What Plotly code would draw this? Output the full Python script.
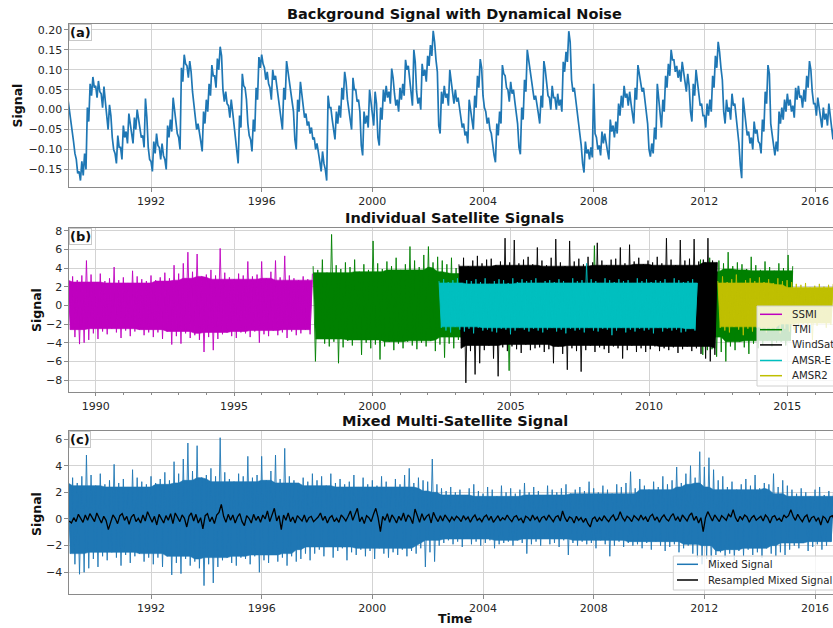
import plotly.graph_objects as go

# ---------------- data ----------------
# (a) background signal: high/low extremes, 20 samples per year from 1989.0
BG_START, BG_STEP = 1989.0, 0.05
bg_signal = [
    0.025, 0.0, -0.02, -0.05, -0.08, -0.11, -0.125, -0.16, -0.155, -0.178, -0.13, -0.165, -0.11, -0.15, 0.005, -0.03, 0.065, 0.035, 0.082, 0.055,
    0.06, 0.03, 0.072, 0.045, 0.04, 0.005, 0.058, 0.02, -0.02, -0.05, 0.012, -0.015, -0.07, -0.1, -0.11, -0.135, -0.065, -0.095, -0.095, -0.125,
    -0.04, -0.07, -0.055, -0.085, -0.01, -0.04, -0.055, -0.085, -0.02, -0.05, 0.0, -0.025, -0.04, -0.07, -0.065, -0.095, 0.028, -0.02, -0.095, -0.125,
    -0.13, -0.155, -0.08, -0.11, -0.06, -0.09, -0.095, -0.125, -0.085, -0.115, -0.125, -0.15, -0.04, -0.07, -0.025, -0.055, 0.03, 0.0, -0.025, -0.06,
    -0.07, -0.1, 0.105, 0.07, 0.138, 0.115, 0.11, 0.08, 0.122, 0.095, 0.045, 0.015, -0.02, -0.05, -0.035, -0.065, -0.08, -0.105, -0.005, -0.035,
    0.025, -0.005, 0.065, 0.035, 0.112, 0.085, 0.085, 0.055, 0.128, 0.1, 0.158, 0.135, 0.05, 0.02, 0.045, 0.015, 0.01, -0.02, 0.025, -0.005,
    -0.035, -0.065, -0.11, -0.135, -0.015, -0.045, 0.09, 0.06, 0.055, 0.025, -0.035, -0.065, -0.075, -0.105, -0.025, -0.055, 0.055, 0.025, 0.132, 0.105,
    0.138, 0.115, 0.105, 0.075, 0.095, 0.065, 0.055, 0.025, 0.1, 0.075, 0.085, 0.055, 0.025, -0.005, -0.02, -0.05, 0.055, 0.025, 0.122, 0.095,
    0.075, 0.045, 0.025, -0.005, -0.075, -0.1, 0.025, -0.005, 0.07, 0.04, 0.01, -0.02, -0.01, -0.04, -0.03, -0.06, -0.045, -0.075, -0.07, -0.1,
    -0.085, -0.115, -0.13, -0.155, -0.105, -0.135, -0.15, -0.178, 0.035, 0.005, 0.005, -0.025, -0.045, -0.075, -0.005, -0.035, 0.01, -0.02, 0.055, 0.025,
    0.095, 0.07, 0.025, -0.005, -0.02, -0.05, 0.08, 0.05, 0.05, 0.02, 0.025, -0.005, -0.09, -0.115, -0.005, -0.035, -0.015, -0.045, 0.05, 0.02,
    -0.01, -0.04, 0.045, 0.015, -0.07, -0.09, 0.005, -0.025, 0.05, 0.02, 0.06, 0.03, 0.045, 0.015, 0.103, 0.08, 0.04, 0.01, 0.025, -0.005,
    0.055, 0.025, 0.065, 0.035, 0.125, 0.1, 0.11, 0.08, 0.04, 0.01, 0.15, 0.12, 0.045, 0.015, 0.03, 0.0, 0.115, 0.085, 0.1, 0.07,
    0.135, 0.11, 0.162, 0.135, 0.198, 0.17, 0.125, 0.095, -0.04, -0.06, 0.045, 0.015, 0.06, 0.03, 0.04, 0.01, 0.1, 0.07, 0.045, 0.015,
    0.05, 0.02, 0.03, 0.0, -0.015, -0.045, -0.035, -0.065, -0.055, -0.085, 0.025, -0.005, -0.02, -0.05, 0.035, 0.005, 0.085, 0.055, 0.127, 0.105,
    0.035, 0.005, -0.005, -0.035, -0.02, -0.05, -0.06, -0.09, -0.115, -0.132, -0.035, -0.065, -0.005, -0.035, 0.112, 0.09, 0.085, 0.055, 0.05, 0.02,
    0.07, 0.04, 0.05, 0.02, -0.005, -0.035, -0.095, -0.112, 0.005, -0.025, 0.075, 0.045, 0.15, 0.125, 0.105, 0.075, 0.055, 0.025, 0.035, 0.005,
    -0.01, -0.035, 0.035, 0.005, 0.122, 0.1, 0.065, 0.035, 0.03, 0.0, 0.06, 0.03, 0.03, 0.0, 0.04, 0.01, 0.025, -0.005, 0.12, 0.095,
    0.145, 0.12, 0.197, 0.17, 0.075, 0.045, 0.055, 0.025, 0.005, -0.025, -0.06, -0.09, -0.135, -0.158, -0.08, -0.11, -0.1, -0.125, -0.095, -0.12,
    0.065, -0.06, -0.07, -0.1, -0.09, -0.115, -0.055, -0.085, -0.06, -0.09, -0.105, -0.125, -0.025, -0.055, -0.04, -0.07, -0.03, -0.06, 0.015, -0.015,
    0.035, 0.005, 0.06, 0.03, 0.04, 0.01, 0.045, 0.015, -0.005, -0.035, 0.055, 0.025, 0.112, 0.09, 0.075, 0.045, 0.055, 0.025, -0.005, -0.035,
    -0.1, -0.118, -0.085, -0.11, -0.045, -0.075, 0.065, 0.03, -0.015, -0.045, 0.025, -0.005, 0.085, 0.055, 0.115, 0.085, 0.15, 0.125, 0.125, 0.095,
    0.11, 0.08, 0.1, 0.07, 0.12, 0.09, 0.075, 0.045, 0.09, 0.06, -0.005, -0.03, 0.065, 0.035, 0.1, 0.07, 0.04, 0.01, 0.015, -0.015,
    -0.015, -0.045, 0.015, -0.015, 0.025, -0.005, 0.085, 0.055, 0.135, 0.105, 0.17, 0.145, 0.105, 0.075, -0.005, -0.035, 0.025, -0.005, 0.005, -0.025,
    0.04, 0.01, 0.015, -0.015, -0.055, -0.085, -0.14, -0.172, 0.03, 0.0, -0.035, -0.065, -0.055, -0.085, -0.07, -0.1, -0.03, -0.06, -0.05, -0.08,
    -0.085, -0.11, -0.025, -0.055, 0.045, 0.015, 0.112, 0.09, -0.035, -0.065, -0.09, -0.115, -0.08, -0.105, -0.005, -0.035, 0.005, -0.025, 0.025, -0.005,
    0.04, 0.01, 0.025, -0.005, 0.01, -0.02, 0.055, 0.025, 0.06, 0.03, 0.035, 0.005, 0.05, 0.02, 0.085, 0.055, 0.122, 0.1, 0.045, 0.015,
    0.015, -0.015, 0.03, 0.0, -0.015, -0.045, 0.005, -0.025, -0.01, -0.04, 0.015, -0.015, -0.045, -0.075, -0.025, -0.055,
]

# (b) individual satellites: alternating upper/lower extremes, 12 samples per year
SAT_STEP = 1.0 / 12
sat_names = ["SSMI", "TMI", "WindSat", "AMSR-E", "AMSR2"]
sat_colors = ["#bf00bf", "#008000", "#000000", "#00bfbf", "#bfbf00"]
sat_starts = [1989.0, 1997.86, 2003.13, 2002.41, 2012.49]

ssmi = [
    2.9, -2.6, 3.1, -3.4, 2.7, -4.15, 3.2, -4.0, 4.8, -3.7, 3.3, -3.0,
    2.5, -3.6, 3.4, -2.8, 2.6, -3.1, 2.9, -2.5, 4.1, -2.9, 2.7, -3.5,
    3.0, -2.7, 2.4, -3.3, 3.7, -2.8, 3.1, -2.6, 2.8, -3.2, 2.6, -2.9,
    3.2, -3.4, 2.7, -2.9, 3.0, -3.6, 3.5, -2.8, 2.9, -4.2, 4.3, -3.3,
    3.4, -4.1, 4.5, -3.0, 5.7, -3.5, 3.6, -3.2, 5.5, -3.7, 3.1, -5.0,
    3.3, -3.4, 3.8, -4.8, 3.2, -3.6, 6.1, -3.1, 3.5, -2.9, 3.0, -3.3,
    2.8, -3.5, 3.4, -2.9, 3.2, -3.0, 4.7, -3.4, 3.1, -2.8, 3.3, -4.0,
    4.7, -3.1, 2.9, -3.3, 3.6, -2.7, 4.8, -3.2, 3.0, -2.9, 5.3, -3.5,
    3.2, -2.8, 2.9, -3.2, 2.7, -3.0, 3.1, -2.6, 2.8, -3.1, 3.4,
]
tmi = [
    4.2, -6.0, 3.8, -3.6, 4.9, -4.1, 3.5, -4.4, 7.6, -3.9, 4.3, -6.2,
    3.9, -4.5, 4.6, -3.8, 4.1, -4.3, 4.9, -3.7, 3.6, -5.3, 4.4, -4.0,
    3.8, -4.6, 6.9, -4.2, 4.5, -5.8, 3.9, -4.4, 4.7, -3.9, 4.2, -4.8,
    5.1, -4.1, 3.8, -4.6, 4.4, -3.9, 6.3, -4.3, 4.8, -4.7, 4.1, -4.0,
    5.4, -4.4, 6.3, -3.8, 4.6, -4.9, 5.2, -4.2, 4.8, -5.6, 4.4, -4.1,
    5.1, -4.6, 4.0, -3.7, 3.6, -3.4, 3.8, -3.6, 3.5, -3.9, 3.4, -3.5,
    3.7, -3.6, 3.5, -3.9, 3.9, -3.4, 3.6, -3.8, 3.4, -3.5, 3.8, -3.7,
    3.5, -7.0, 3.9, -3.4, 3.6, -3.8, 3.5, -3.9, 3.7, -3.5, 3.4, -3.6,
    3.8, -3.5, 3.6, -3.7, 3.5, -3.4, 3.9, -3.6, 3.4, -3.8, 3.6, -3.5,
    3.7, -3.6, 3.5, -3.9, 3.8, -3.4, 3.5, -3.7, 3.5, -3.6, 3.9, -3.8,
    3.6, -3.5, 6.4, -3.7, 3.8, -3.6, 3.5, -3.4, 3.7, -3.9, 3.6, -3.5,
    3.4, -3.8, 3.9, -3.6, 3.5, -3.7, 3.6, -3.4, 3.8, -3.5, 3.7, -3.6,
    3.5, -3.9, 3.6, -3.4, 3.8, -3.7, 3.4, -3.6, 3.9, -3.5, 3.7, -3.8,
    3.6, -3.4, 3.5, -3.7, 3.8, -3.6, 3.4, -3.9, 3.7, -3.5, 3.6, -3.4,
    4.9, -5.3, 4.6, -4.8, 5.1, -4.7, 4.4, -5.5, 4.8, -5.0, 4.5, -6.0,
    5.7, -4.4, 4.2, -4.8, 4.6, -3.9, 4.4, -4.5, 3.9, -5.2, 5.2, -4.1,
    4.3, -4.6, 3.8, -4.2, 4.7, -3.8, 4.1, -4.4, 3.7, -4.0, 4.5, -3.9,
    4.0, -4.3, 5.4, -3.8, 4.2,
]
windsat = [
    4.4, -4.6, 5.1, -8.3, 4.2, -4.9, 4.8, -7.4, 5.3, -6.2, 4.5, -4.8,
    4.9, -4.3, 5.0, -5.7, 4.3, -7.6, 4.7, -4.5, 7.2, -4.9, 4.6, -4.4,
    7.0, -4.7, 4.5, -5.1, 4.9, -4.2, 5.2, -4.8, 4.4, -4.6, 6.2, -4.5,
    4.8, -5.0, 4.3, -4.7, 5.1, -6.2, 7.1, -4.4, 4.6, -5.2, 4.2, -6.9,
    6.9, -4.6, 4.7, -4.9, 5.0, -7.1, 4.4, -4.8, 5.2, -4.3, 4.6, -5.0,
    6.7, -4.5, 4.8, -4.7, 4.3, -5.1, 4.9, -4.4, 5.0, -4.6, 6.2, -5.7,
    4.5, -4.8, 6.5, -4.3, 4.7, -5.0, 5.1, -4.6, 4.4, -5.0, 4.8, -4.7,
    4.6, -4.4, 5.2, -4.9, 4.5, -4.6, 7.2, -4.8, 4.9, -4.5, 4.3, -5.1,
    7.0, -4.7, 4.8, -4.4, 5.0, -4.9, 7.1, -4.6, 4.7, -5.2, 4.9, -5.7,
    7.2, -6.0, 4.8, -5.3, 4.6,
]
amsre = [
    2.6, -2.4, 2.8, -2.7, 2.5, -2.9, 2.7, -2.3, 2.9, -2.6, 2.4, -2.8,
    2.7, -2.5, 2.6, -3.0, 2.8, -2.4, 2.5, -2.7, 2.9, -2.6, 2.3, -2.8,
    2.6, -2.9, 2.8, -2.5, 2.7, -2.6, 2.4, -3.1, 2.9, -2.7, 2.5, -2.4,
    2.8, -2.6, 2.6, -2.8, 2.7, -2.5, 2.9, -2.7, 2.4, -2.9, 2.6, -2.6,
    2.7, -2.4, 2.5, -2.8, 2.8, -2.6, 2.6, -3.0, 2.4, -2.5, 2.9, -2.7,
    2.6, -2.6, 2.7, -2.9, 4.5, -2.4, 2.8, -2.7, 2.6, -2.8, 2.4, -2.5,
    2.9, -2.6, 2.7, -3.2, 2.5, -2.7, 2.8, -2.4, 2.6, -2.9, 2.7, -2.6,
    2.4, -2.8, 2.9, -2.5, 2.6, -2.7, 2.8, -2.6, 2.5, -3.0, 2.7, -2.4,
    2.6, -2.8, 2.8, -2.5, 2.4, -2.7, 2.9, -2.6, 2.7, -2.9, 2.5, -2.8,
    2.6, -2.5, 2.8, -2.7, 2.4,
]
amsr2 = [
    2.6, -2.4, 3.1, -2.7, 2.5, -2.9, 2.8, -2.3, 3.3, -2.6, 2.4, -3.2,
    2.7, -2.5, 2.9, -2.8, 2.6, -2.4, 3.0, -2.7, 2.5, -2.9, 2.8, -2.6,
    2.4, -2.7, 2.9, -3.0, 2.6, -2.5, 2.7, -2.8, 2.5, -2.6, 2.3, -2.4,
    2.2, -2.0, 2.4, -2.3, 1.9, -3.7, 2.1, -2.2, 2.3, -1.9, 2.0, -2.4,
    2.2, -2.1, 2.3,
]
sat_values = [ssmi, tmi, windsat, amsre, amsr2]

# (c) mixed signal: SSMI only until late 1997, then the mixture
MIX_START = 1989.0
mixed_after = [
    -2.6, 2.9, -2.3, 3.2, -2.8, 2.5, -2.1, 3.4, -2.9, 2.7, -2.4, 3.0,
    -2.2, 2.6, -3.1, 2.8, -2.5, 3.3, -2.7, 2.4, -2.3, 3.1, -2.8, 2.6,
    -2.4, 2.9, -3.0, 2.5, -2.2, 3.2, -2.6, 2.8, -2.9, 2.4, -2.5, 3.0,
    -2.7, 2.6, -2.3, 3.3, -2.8, 3.8, -2.4, 2.7, -2.6, 3.1, -2.2, 2.9,
    -3.6, 2.8, -2.5, 4.5, -3.2, 2.6, -2.0, 2.3, -1.8, 2.1, -1.6, 2.4,
    -1.9, 2.0, -1.7, 2.2, -2.1, 1.8, -1.5, 2.3, -1.9, 2.6, -1.7, 2.1,
    -2.0, 1.9, -1.8, 2.4, -1.6, 2.2, -2.2, 1.7, -1.9, 2.5, -1.8, 2.0,
    -1.7, 2.3, -2.0, 1.9, -1.6, 2.2, -1.8, 2.7, -2.6, 2.0, -1.9, 2.4,
    -1.7, 2.1, -2.0, 1.8, -1.5, 2.5, -1.9, 2.2, -1.8, 2.0, -2.1, 2.3,
    -1.6, 2.6, -2.7, 1.9, -1.8, 2.2, -2.0, 2.4, -1.7, 2.1, -1.9, 2.8,
    -1.8, 2.3, -2.2, 2.0, -1.6, 2.5, -1.9, 2.2, -2.8, 1.9, -2.0, 2.6,
    -1.7, 2.4, -2.1, 2.7, -1.8, 3.55, -2.0, 2.3, -1.9, 3.0, -2.2, 2.5,
    -1.8, 2.2, -2.3, 2.8, -1.7, 2.4, -2.0, 3.2, -2.4, 2.6, -2.1, 2.9,
    -1.9, 3.9, -2.5, 2.7, -2.2, 3.4, -2.0, 4.0, -2.6, 3.1, -2.9, 5.05,
    -3.4, 3.9, -3.0, 4.6, -3.6, 3.7, -2.7, 2.9, -2.5, 3.2, -2.9, 2.4,
    -2.6, 2.8, -3.1, 2.2, -2.4, 2.6, -2.8, 3.0, -2.3, 2.5, -2.7, 3.3,
    -2.5, 2.3, -2.9, 2.7, -2.2, 2.6, -2.6, 3.4, -2.8, 2.4, -2.5, 2.9,
    -2.7, 2.5, -2.3, 2.2, -2.0, 1.9, -2.2, 2.3, -1.8, 2.0, -2.4, 1.7,
    -2.1, 2.2, -1.9, 2.4, -2.3, 1.8, -2.0, 2.1, -1.7, 2.0,
]
mixed = ssmi + mixed_after

# (c) resampled (monthly) mixed signal, mid-month samples from 1989
RES_START = 1989.0 + 1.0 / 24
resampled = [
    -0.15, -0.3, 0.1, -0.2, 0.35, 0.05, -0.25, 0.3, -0.1, 0.4, 0.15, -0.2,
    0.45, 0.1, -0.3, 0.2, -0.1, -0.8, -0.2, 0.3, 0.05, -0.35, 0.25, 0.4,
    -0.1, 0.2, -0.4, 0.15, 0.35, -0.2, 0.05, -0.3, 0.3, -0.15, 0.55, 0.1,
    -0.25, 0.2, -0.45, 0.35, 0.0, -0.3, 0.25, -0.1, 0.4, -0.35, 0.45, 0.1,
    -0.2, 0.3, 0.05, -0.6, 0.2, 0.45, -0.15, 0.35, -0.3, 0.1, -0.75, 0.25,
    0.4, -0.2, 0.15, -0.35, 0.3, 0.5, 1.1, 0.2, -0.25, 0.35, -0.1, 0.3,
    -0.3, 0.15, 0.4, -0.2, -0.5, 0.25, 0.05, -0.3, 0.35, -0.1, 0.2, -0.25,
    0.3, 0.0, 0.6, -0.2, 0.35, 0.8, -0.15, 0.25, -0.8, 0.3, -0.1, 0.45,
    -0.2, 0.15, -0.3, 0.25, 0.05, -0.15, 0.3, -0.25, 0.1, 0.2, -0.2, 0.0,
    0.15, 0.45, -0.1, 0.2, -0.3, 0.1, 0.25, -0.2, 0.05, -0.25, 0.3, 0.1,
    -0.15, 0.2, 0.6, -0.1, 0.3, 0.8, -0.2, 0.15, -0.35, 0.25, 0.1, -0.2,
    0.35, 0.8, 0.1, -0.95, 0.2, -0.1, 0.4, -0.25, 0.3, 0.05, -0.3, 0.2,
    -0.1, 0.45, -0.2, 0.3, 0.1, -0.35, 0.75, 0.15, -0.25, 0.4, -0.1, 0.2,
    0.35, -0.3, 0.5, 0.1, -0.2, 0.25, -0.15, 0.3, 0.05, -0.2, 0.15, -0.1,
    0.2, 0.05, -0.2, 0.25, -0.05, 0.15, -0.25, 0.1, 0.3, -0.1, 0.05, -0.2,
    0.15, 0.3, -0.1, 0.2, -0.25, 0.05, 0.25, -0.15, 0.1, -0.05, 0.3, 0.0,
    -0.2, 0.15, 0.25, -0.1, 0.05, -0.3, 0.2, 0.1, -0.15, 0.3, -0.05, 0.15,
    -0.25, 0.1, 0.2, -0.1, 0.3, 0.05, -0.2, 0.15, 0.25, -0.15, 0.6, 0.1,
    -0.2, 0.15, 0.05, -0.3, 0.2, -0.1, 0.1, -0.25, 0.05, -0.35, -0.6, 0.0,
    0.15, -0.2, 0.1, -0.15, 0.25, 0.0, -0.2, 0.1, 0.3, -0.1, 0.05, 0.55,
    0.1, -0.15, 0.2, 0.05, -0.2, 0.25, 0.1, -0.1, 0.3, -0.05, 0.15, -0.2,
    0.2, 0.35, -0.1, 0.15, -0.25, 0.1, 0.3, 0.0, -0.15, 0.2, 0.4, -0.1,
    0.15, -0.2, 0.3, 0.05, -0.15, 0.25, 0.45, -0.1, 0.2, -0.3, 0.1, -0.95,
    0.1, 0.55, 0.2, -0.15, 0.3, 0.05, -0.2, 0.25, 0.1, -0.1, 0.35, 0.15,
    0.7, 0.1, -0.2, 0.2, -0.05, 0.3, 0.15, -0.25, 0.1, 0.25, -0.1, 0.05,
    0.2, -0.15, 0.3, 0.1, -0.3, 0.15, 0.25, -0.1, 0.05, -0.2, 0.3, 0.1,
    0.25, 0.7, 0.2, -0.1, 0.35, 0.05, -0.2, 0.15, 0.3, -0.25, 0.1, 0.2,
    -0.15, 0.1, -0.45, 0.2, 0.05, -0.3, 0.15, 0.25, -0.1,
]

# tick labels
x_ticks_ac = [1992, 1996, 2000, 2004, 2008, 2012, 2016]
x_ticktext_ac = ["1992", "1996", "2000", "2004", "2008", "2012", "2016"]
x_ticks_b = [1990, 1995, 2000, 2005, 2010, 2015]
x_ticktext_b = ["1990", "1995", "2000", "2005", "2010", "2015"]
y_ticks_a = [-0.15, -0.10, -0.05, 0.0, 0.05, 0.10, 0.15, 0.20]
y_ticktext_a = ["\u22120.15", "\u22120.10", "\u22120.05", "0.00", "0.05", "0.10", "0.15", "0.20"]
y_ticks_b = [-8, -6, -4, -2, 0, 2, 4, 6, 8]
y_ticktext_b = ["\u22128", "\u22126", "\u22124", "\u22122", "0", "2", "4", "6", "8"]
y_ticks_c = [-4, -2, 0, 2, 4, 6]
y_ticktext_c = ["\u22124", "\u22122", "0", "2", "4", "6"]

# ---------------- figure ----------------
W, H = 833, 628
ML = 69
FONT = "DejaVu Sans"


def times(start, step, n):
    return [start + i * step for i in range(n)]


def px(xp):
    return (xp - ML) / (W - ML)


def py(yp):
    return 1 - yp / H


def band_core(start, step, vals, reach=5):
    """Solid core of a noise band: each extreme limited by its neighbours."""
    t = times(start, step, len(vals))
    up = [(ti, v) for ti, v in zip(t, vals) if v >= 0]
    lo = [(ti, v) for ti, v in zip(t, vals) if v < 0]

    def limit(pts, sign):
        out = []
        for k in range(len(pts)):
            win = [abs(pts[j][1]) for j in range(max(0, k - reach), min(len(pts), k + reach + 1))]
            out.append((pts[k][0], sign * min(win)))
        return out

    pts = limit(up, 1) + limit(lo, -1)[::-1]
    return [p[0] for p in pts], [p[1] for p in pts]


def add_noise(fig, start, step, vals, col, name, xa, ya):
    bx, by = band_core(start, step, vals)
    fig.add_trace(go.Scatter(
        x=bx, y=by, mode="lines", fill="toself", fillcolor=col,
        line=dict(color=col, width=0.6), name=name, showlegend=False,
        hoverinfo="skip", xaxis=xa, yaxis=ya))
    fig.add_trace(go.Scatter(
        x=times(start, step, len(vals)), y=vals, mode="lines",
        line=dict(color=col, width=0.9), name=name, showlegend=False,
        xaxis=xa, yaxis=ya))


fig = go.Figure()

fig.add_trace(go.Scatter(
    x=times(BG_START, BG_STEP, len(bg_signal)), y=bg_signal, mode="lines",
    line=dict(color="#1f77b4", width=1.7), name="Background", showlegend=False,
    xaxis="x", yaxis="y"))

for name, col, start, vals in zip(sat_names, sat_colors, sat_starts, sat_values):
    add_noise(fig, start, SAT_STEP, vals, col, name, "x2", "y2")

add_noise(fig, MIX_START, SAT_STEP, mixed, "#1f77b4", "Mixed Signal", "x3", "y3")
fig.add_trace(go.Scatter(
    x=times(RES_START, SAT_STEP, len(resampled)), y=resampled, mode="lines",
    line=dict(color="#000000", width=1.3), name="Resampled Mixed Signal",
    showlegend=False, xaxis="x3", yaxis="y3"))

X_RANGE = [1989.036, 2016.65]
tickfont = dict(family=FONT, size=11, color="#262626")
common = dict(showgrid=True, gridcolor="#d3d3d3", gridwidth=1, zeroline=False,
              showline=True, linecolor="#8a8a8a", linewidth=1.2,
              ticks="outside", ticklen=3.5, tickcolor="#8a8a8a",
              tickfont=tickfont)

doms = {
    "a": [py(187.3), py(24.0)],
    "b": [py(391.7), py(227.7)],
    "c": [py(594.0), py(431.3)],
}

fig.update_layout(
    width=W, height=H,
    margin=dict(l=ML, r=0, t=0, b=0, autoexpand=False),
    paper_bgcolor="white", plot_bgcolor="white",
    font=dict(family=FONT, color="#262626"),
    showlegend=False,
    xaxis=dict(common, domain=[0, 1], anchor="y", range=X_RANGE, mirror=True,
               tickmode="array", tickvals=x_ticks_ac, ticktext=x_ticktext_ac),
    yaxis=dict(common, domain=doms["a"], anchor="x", range=[-0.195, 0.215],
               tickmode="array", tickvals=y_ticks_a, ticktext=y_ticktext_a),
    xaxis2=dict(common, domain=[0, 1], anchor="y2", range=X_RANGE, mirror=True,
                tickmode="array", tickvals=x_ticks_b, ticktext=x_ticktext_b,
                minor=dict(dtick=1, tick0=1990, ticks="outside", ticklen=2,
                           tickcolor="#8a8a8a", showgrid=False)),
    yaxis2=dict(common, domain=doms["b"], anchor="x2", range=[-9.25, 8.32],
                tickmode="array", tickvals=y_ticks_b, ticktext=y_ticktext_b),
    xaxis3=dict(common, domain=[0, 1], anchor="y3", range=X_RANGE, mirror=True,
                tickmode="array", tickvals=x_ticks_ac, ticktext=x_ticktext_ac),
    yaxis3=dict(common, domain=doms["c"], anchor="x3", range=[-5.63, 6.58],
                tickmode="array", tickvals=y_ticks_c, ticktext=y_ticktext_c),
)

ann = []
titles = [("Background Signal with Dynamical Noise", 14),
          ("Individual Satellite Signals", 218),
          ("Mixed Multi-Satellite Signal", 421)]
for t, yy in titles:
    ann.append(dict(text="<b>%s</b>" % t, xref="paper", yref="paper",
                    x=px(455), y=py(yy), xanchor="center", yanchor="middle",
                    showarrow=False, font=dict(family=FONT, size=14.5, color="#111")))
for t, xx, yy in [("Signal", 17, 105.5), ("Signal", 36, 310), ("Signal", 36, 514)]:
    ann.append(dict(text="<b>%s</b>" % t, xref="paper", yref="paper",
                    x=px(xx), y=py(yy), xanchor="center", yanchor="middle",
                    textangle=-90, showarrow=False,
                    font=dict(family=FONT, size=12.5, color="#111")))
ann.append(dict(text="<b>Time</b>", xref="paper", yref="paper", x=px(455), y=py(618.5),
                xanchor="center", yanchor="middle", showarrow=False,
                font=dict(family=FONT, size=12.5, color="#111")))
for lab, ax in [("(a)", ""), ("(b)", "2"), ("(c)", "3")]:
    ann.append(dict(text="<b>%s</b>" % lab, xref="x%s domain" % ax, yref="y%s domain" % ax,
                    x=0.0, y=1.0, xanchor="left", yanchor="top", showarrow=False,
                    bgcolor="rgba(255,255,255,0.85)", bordercolor="#c8c8c8",
                    borderwidth=1, borderpad=0,
                    font=dict(family=FONT, size=13, color="#111")))

shapes = []
# legend of panel (b)
shapes.append(dict(type="rect", xref="paper", yref="paper", x0=px(757), x1=px(860),
                   y0=py(386), y1=py(306), fillcolor="rgba(255,255,255,0.8)",
                   line=dict(color="#d0d0d0", width=1), layer="above"))
leg_b_rows = [314.3, 329.7, 344.9, 360.5, 375.7]
for name, col, yy in zip(sat_names, sat_colors, leg_b_rows):
    shapes.append(dict(type="line", xref="paper", yref="paper", x0=px(760), x1=px(782),
                       y0=py(yy), y1=py(yy), line=dict(color=col, width=1.5), layer="above"))
    ann.append(dict(text=name, xref="paper", yref="paper", x=px(790), y=py(yy),
                    xanchor="left", yanchor="middle", showarrow=False,
                    font=dict(family=FONT, size=10.2, color="#262626")))
# legend of panel (c)
shapes.append(dict(type="rect", xref="paper", yref="paper", x0=px(673.3), x1=px(880),
                   y0=py(590), y1=py(556), fillcolor="rgba(255,255,255,0.8)",
                   line=dict(color="#d0d0d0", width=1), layer="above"))
for name, col, yy in [("Mixed Signal", "#1f77b4", 564.3), ("Resampled Mixed Signal", "#000000", 580)]:
    shapes.append(dict(type="line", xref="paper", yref="paper", x0=px(677), x1=px(698),
                       y0=py(yy), y1=py(yy), line=dict(color=col, width=1.5), layer="above"))
    ann.append(dict(text=name, xref="paper", yref="paper", x=px(706), y=py(yy),
                    xanchor="left", yanchor="middle", showarrow=False,
                    font=dict(family=FONT, size=10.2, color="#262626")))

fig.update_layout(annotations=ann, shapes=shapes)
fig.write_html("out.html", config={"displayModeBar": False},
               post_script="document.body.style.margin='0';document.body.style.overflow='hidden';")
